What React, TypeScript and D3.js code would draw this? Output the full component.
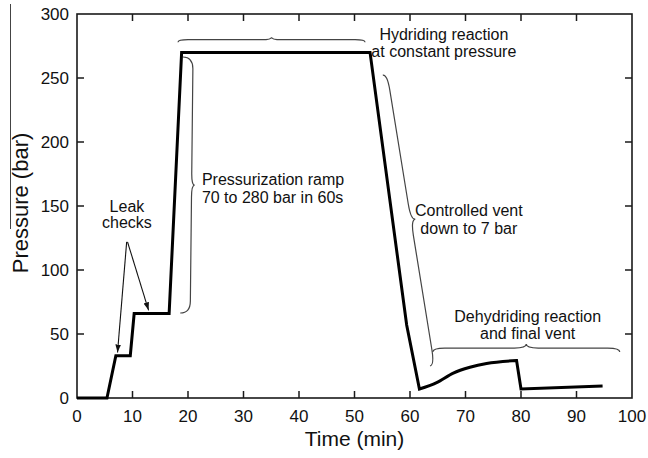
import React from 'react';
import * as d3 from 'd3';

// ---- data ----
const timeMin = [0, 5.4, 7, 9.6, 10.3, 16.6, 18.85, 52.8, 59.4, 61.7, 64.8, 67.8, 70.8, 73.8, 79.2, 80, 94.7];
const pressureBar = [0, 0, 33, 33, 66, 66, 270, 270, 57, 7, 12, 19.5, 24, 27, 29.3, 7, 9.4];
// index range of the smooth (curved) dehydriding rise
const smoothStart = 9;
const smoothEnd = 14;

const xTicks = [0, 10, 20, 30, 40, 50, 60, 70, 80, 90, 100];
const yTicks = [0, 50, 100, 150, 200, 250, 300];

const xTitle = 'Time (min)';
const yTitle = 'Pressure (bar)';

// annotation texts and their anchor points (data coordinates)
const noteLines = [
  ['Leak', 'checks'],
  ['Pressurization ramp', '70 to 280 bar in 60s'],
  ['Hydriding reaction', 'at constant pressure'],
  ['Controlled vent', 'down to 7 bar'],
  ['Dehydriding reaction', 'and final vent'],
];
const noteT = [9.0, 22.5, 66.1, 70.6, 81.2];
const noteP = [145.3, 166.4, 279.7, 141.8, 59.6];
const noteAnchor = ['middle', 'start', 'middle', 'middle', 'middle'];

// braces: start/end in data coordinates
const braceT1 = [18.2, 19.1, 55.1, 64.1];
const braceP1 = [278, 266.4, 252.3, 35.9];
const braceT2 = [51.9, 18.6, 63.6, 97.8];
const braceP2 = [278, 66.4, 25, 35.9];

// leak-check arrows: tail and tip in data coordinates
const arrowT1 = [8.95, 9.1];
const arrowP1 = [122, 122];
const arrowT2 = [7.3, 12.9];
const arrowP2 = [35.5, 68.5];

const W = 648;
const H = 458;
const M = { left: 77, right: 16, top: 14, bottom: 60 };
const FONT = '"Liberation Sans", Arial, Helvetica, sans-serif';

function bracePath(x1: number, y1: number, x2: number, y2: number, w: number, b: number, r: number) {
  const L = Math.hypot(x2 - x1, y2 - y1);
  const ux = (x2 - x1) / L;
  const uy = (y2 - y1) / L;
  const nx = uy;
  const ny = -ux;
  const P = (s: number, h: number) => `${(x1 + ux * s + nx * h).toFixed(2)},${(y1 + uy * s + ny * h).toFixed(2)}`;
  const m = L / 2;
  return [
    `M${P(0, 0)}`,
    `Q${P(0, b)} ${P(r, b)}`,
    `L${P(m - r, b)}`,
    `Q${P(m, b)} ${P(m, w)}`,
    `Q${P(m, b)} ${P(m + r, b)}`,
    `L${P(L - r, b)}`,
    `Q${P(L, b)} ${P(L, 0)}`,
  ].join(' ');
}

const braceStyle = [
  { w: 5, b: 2.5, r: 10 },
  { w: 13, b: 10, r: 12 },
  { w: 9, b: 4.5, r: 16 },
  { w: 8, b: 4, r: 12 },
];

export default function App() {
  const x = d3.scaleLinear().domain([0, 100]).range([M.left, W - M.right]);
  const y = d3.scaleLinear().domain([0, 300]).range([H - M.bottom, M.top]);
  const x0 = x(0), x1 = x(100), y0 = y(0), y1 = y(300);
  const tickLen = 7;

  const pts: [number, number][] = timeMin.map((t, i) => [x(t), y(pressureBar[i])]);
  const lin = d3.line().curve(d3.curveLinear);
  const smooth = d3.line().curve(d3.curveMonotoneX);
  const profilePath =
    (lin(pts.slice(0, smoothStart + 1)) || '') +
    (smooth(pts.slice(smoothStart, smoothEnd + 1)) || '').replace(/^M[^CLQ]*/, '') +
    (lin(pts.slice(smoothEnd)) || '').replace(/^M[^L]*/, '');

  return (
    <svg
      width={W}
      height={H}
      style={{ position: 'absolute', left: 0, top: 0, background: '#fff' }}
      fontFamily={FONT}
    >
      <defs>
        <marker id="ah" viewBox="0 0 10 10" refX="10" refY="5" markerWidth="8" markerHeight="8" orient="auto" markerUnits="userSpaceOnUse">
          <path d="M0,1.5 L10,5 L0,8.5 Z" fill="#111" />
        </marker>
      </defs>

      {/* stray scan line at left */}
      <line x1={10.5} x2={10.5} y1={4} y2={229} stroke="#444" strokeWidth={1} />

      {/* frame */}
      <rect x={x0} y={y1} width={x1 - x0} height={y0 - y1} fill="none" stroke="#1a1a1a" strokeWidth={1.6} />

      {/* ticks (inward, all four sides) */}
      {xTicks.slice(1, -1).map((t) => (
        <g key={'xt' + t}>
          <line x1={x(t)} x2={x(t)} y1={y0} y2={y0 - tickLen} stroke="#1a1a1a" strokeWidth={1.5} />
          <line x1={x(t)} x2={x(t)} y1={y1} y2={y1 + tickLen} stroke="#1a1a1a" strokeWidth={1.5} />
        </g>
      ))}
      {yTicks.slice(1, -1).map((p) => (
        <g key={'yt' + p}>
          <line x1={x0} x2={x0 + tickLen} y1={y(p)} y2={y(p)} stroke="#1a1a1a" strokeWidth={1.5} />
          <line x1={x1} x2={x1 - tickLen} y1={y(p)} y2={y(p)} stroke="#1a1a1a" strokeWidth={1.5} />
        </g>
      ))}

      {/* tick labels */}
      {xTicks.map((t) => (
        <text key={'xl' + t} x={x(t)} y={y0 + 24} textAnchor="middle" fontSize={17} fill="#111">
          {t}
        </text>
      ))}
      {yTicks.map((p) => (
        <text key={'yl' + p} x={x0 - 8} y={y(p) + 6} textAnchor="end" fontSize={17} fill="#111">
          {p}
        </text>
      ))}

      {/* axis titles */}
      <text x={(x0 + x1) / 2} y={446} textAnchor="middle" fontSize={21} fill="#111">
        {xTitle}
      </text>
      <text
        transform={`translate(28, ${(y0 + y1) / 2 - 3}) rotate(-90)`}
        textAnchor="middle"
        fontSize={22}
        fill="#111"
      >
        {yTitle}
      </text>

      {/* braces */}
      {braceT1.map((t, i) => (
        <path
          key={'br' + i}
          d={bracePath(x(t), y(braceP1[i]), x(braceT2[i]), y(braceP2[i]), braceStyle[i].w, braceStyle[i].b, braceStyle[i].r)}
          fill="none"
          stroke="#444"
          strokeWidth={1.2}
        />
      ))}

      {/* pressure profile */}
      <path d={profilePath} fill="none" stroke="#000" strokeWidth={3} strokeLinejoin="miter" />

      {/* arrows */}
      {arrowT1.map((t, i) => (
        <line
          key={'ar' + i}
          x1={x(t)}
          y1={y(arrowP1[i])}
          x2={x(arrowT2[i])}
          y2={y(arrowP2[i])}
          stroke="#111"
          strokeWidth={1.1}
          markerEnd="url(#ah)"
        />
      ))}

      {/* annotation texts */}
      {noteLines.map((lines, i) => (
        <text
          key={'n' + i}
          x={x(noteT[i])}
          y={y(noteP[i])}
          textAnchor={noteAnchor[i] as any}
          fontSize={16}
          fill="#111"
        >
          {lines.map((s, j) => (
            <tspan key={j} x={x(noteT[i])} dy={j === 0 ? 0 : i === 0 ? 16 : 17.5}>
              {s}
            </tspan>
          ))}
        </text>
      ))}
    </svg>
  );
}
